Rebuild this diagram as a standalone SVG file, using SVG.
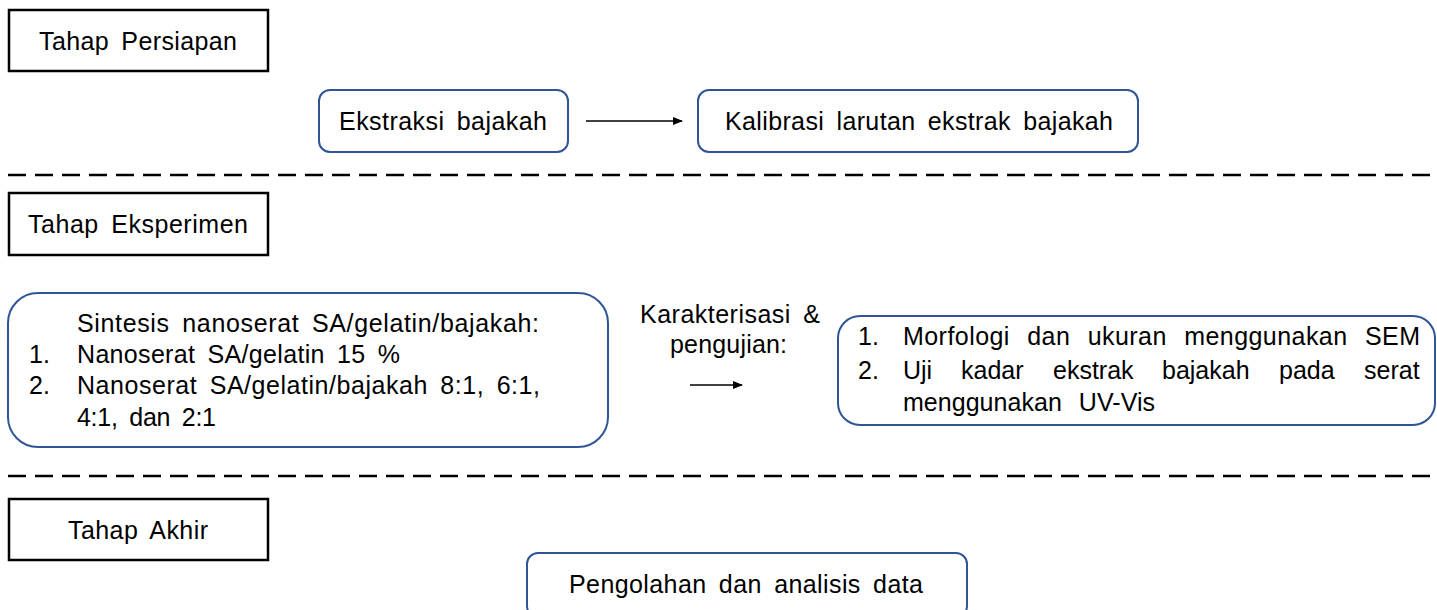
<svg xmlns="http://www.w3.org/2000/svg" width="1437" height="610" viewBox="0 0 1437 610">
<style>
.stage{fill:#fff;stroke:#000;stroke-width:2.5}
.node{fill:#fff;stroke:#2F5597;stroke-width:2}
text{font-family:"Liberation Sans",Arial,sans-serif;font-size:25px;fill:#000;word-spacing:5px}
.wide{word-spacing:10px}
.dash{stroke:#000;stroke-width:2.5;stroke-dasharray:18 9;fill:none}
.conn{stroke:#000;stroke-width:1.5;fill:none}
</style>
<defs>
<marker id="ah" markerWidth="10" markerHeight="8" refX="9" refY="4" orient="auto" markerUnits="userSpaceOnUse">
<path d="M0,0 L10,4 L0,8 Z" fill="#000"/>
</marker>
</defs>
<rect width="1437" height="610" fill="#fff"/>

<g id="dividers">
<line class="dash" x1="8" y1="175" x2="1437" y2="175"/>
<line class="dash" x1="8" y1="476" x2="1437" y2="476"/>
</g>

<g id="stage-persiapan">
<rect class="stage" x="9" y="10" width="259" height="61"/>
<text x="39" y="50" textLength="198" lengthAdjust="spacing">Tahap Persiapan</text>
</g>
<g id="stage-eksperimen">
<rect class="stage" x="9" y="193" width="259" height="62"/>
<text x="28" y="233" textLength="220" lengthAdjust="spacing">Tahap Eksperimen</text>
</g>
<g id="stage-akhir">
<rect class="stage" x="9" y="499" width="259" height="61"/>
<text x="68" y="539" textLength="140" lengthAdjust="spacing">Tahap Akhir</text>
</g>

<g id="node-ekstraksi">
<rect class="node" x="319" y="90" width="249" height="62" rx="11"/>
<text x="339" y="130" textLength="208" lengthAdjust="spacing">Ekstraksi bajakah</text>
</g>
<g id="node-kalibrasi">
<rect class="node" x="698" y="90" width="440" height="62" rx="11"/>
<text x="725" y="130" textLength="388" lengthAdjust="spacing">Kalibrasi larutan ekstrak bajakah</text>
</g>

<g id="node-sintesis">
<rect class="node" x="8" y="293" width="600" height="154" rx="30"/>
<text x="77" y="332" textLength="462" lengthAdjust="spacing">Sintesis nanoserat SA/gelatin/bajakah:</text>
<text x="29" y="363">1.</text>
<text x="77" y="363" textLength="323" lengthAdjust="spacing">Nanoserat SA/gelatin 15 %</text>
<text x="29" y="394">2.</text>
<text x="77" y="394" textLength="463" lengthAdjust="spacing">Nanoserat SA/gelatin/bajakah 8:1, 6:1,</text>
<text x="77" y="426" textLength="139" lengthAdjust="spacing">4:1, dan 2:1</text>
</g>

<g id="label-karakterisasi">
<text x="640" y="323" textLength="180" lengthAdjust="spacing">Karakterisasi &amp;</text>
<text x="670" y="353" textLength="117" lengthAdjust="spacing">pengujian:</text>
</g>

<g id="node-karakterisasi">
<rect class="node" x="838" y="316" width="597" height="109" rx="22"/>
<text x="858" y="345">1.</text>
<text class="wide" x="903" y="345" textLength="517" lengthAdjust="spacing">Morfologi dan ukuran menggunakan SEM</text>
<text x="858" y="379">2.</text>
<text y="379"><tspan x="903">Uji</tspan><tspan x="961">kadar</tspan><tspan x="1053">ekstrak</tspan><tspan x="1162">bajakah</tspan><tspan x="1279">pada</tspan><tspan x="1364">serat</tspan></text>
<text class="wide" x="903" y="411" textLength="252" lengthAdjust="spacing">menggunakan UV-Vis</text>
</g>

<g id="node-pengolahan">
<rect class="node" x="527" y="553" width="440" height="64" rx="11"/>
<text x="569" y="593" textLength="354" lengthAdjust="spacing">Pengolahan dan analisis data</text>
</g>

<g id="connectors">
<line class="conn" x1="586" y1="121" x2="682" y2="121" marker-end="url(#ah)"/>
<line class="conn" x1="690" y1="385" x2="742" y2="385" marker-end="url(#ah)"/>
</g>
</svg>
